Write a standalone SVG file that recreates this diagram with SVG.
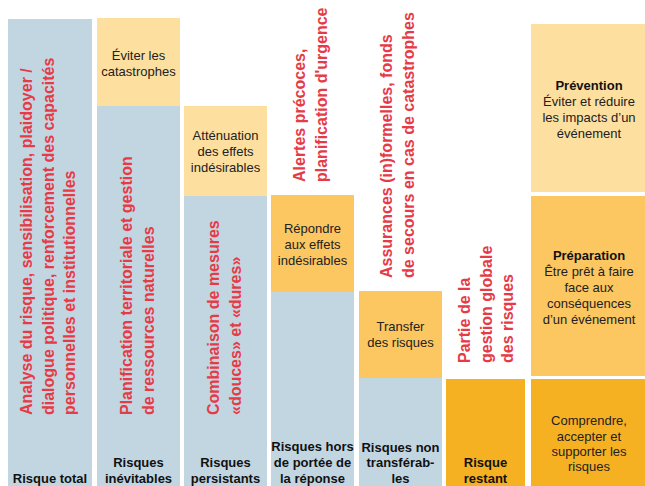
<svg xmlns="http://www.w3.org/2000/svg" width="645" height="486" viewBox="0 0 645 486">
<style>
.blue{fill:#C2D6E2}
.lo{fill:#FDDFA0}
.mo{fill:#FCC660}
.do{fill:#F5B122}
.red{font-family:"Liberation Sans",Arial,sans-serif;font-size:16px;font-weight:bold;fill:#E63B47}
.t{font-family:"Liberation Sans",Arial,sans-serif;font-size:13px;fill:#222;text-anchor:middle}
.b{font-family:"Liberation Sans",Arial,sans-serif;font-size:13px;font-weight:bold;fill:#111;text-anchor:middle}
</style>
<rect width="645" height="486" fill="#fff"/>
<g id="col-total">
<rect class="blue" x="8" y="19" width="84" height="467"/>
<text class="red" transform="translate(32,415) rotate(-90)">Analyse du risque, sensibilisation, plaidoyer /</text>
<text class="red" transform="translate(53.5,415) rotate(-90)">dialogue politique, renforcement des capacités</text>
<text class="red" transform="translate(75,415) rotate(-90)">personnelles et institutionnelles</text>
<text class="b" x="50" y="483">Risque total</text>
</g>
<g id="col-inevitables">
<rect class="lo" x="97" y="18" width="83" height="88"/>
<rect class="blue" x="97" y="106" width="83" height="380"/>
<text class="t" x="138.5" y="60">Éviter les</text>
<text class="t" x="138.5" y="76">catastrophes</text>
<text class="red" transform="translate(132,415) rotate(-90)">Planification territoriale et gestion</text>
<text class="red" transform="translate(153.5,415) rotate(-90)">de ressources naturelles</text>
<text class="b" x="138.5" y="467">Risques</text>
<text class="b" x="138.5" y="483">inévitables</text>
</g>
<g id="col-persistants">
<rect class="lo" x="184" y="106" width="83" height="90"/>
<rect class="blue" x="184" y="196" width="83" height="290"/>
<text class="t" x="225.5" y="140">Atténuation</text>
<text class="t" x="225.5" y="156">des effets</text>
<text class="t" x="225.5" y="172">indésirables</text>
<text class="red" transform="translate(218.5,415) rotate(-90)">Combinaison de mesures</text>
<text class="red" transform="translate(240.5,415) rotate(-90)">«douces» et «dures»</text>
<text class="b" x="225.5" y="467">Risques</text>
<text class="b" x="225.5" y="483">persistants</text>
</g>
<g id="col-hors-portee">
<rect class="mo" x="271" y="195" width="83" height="97"/>
<rect class="blue" x="271" y="292" width="83" height="194"/>
<text class="t" x="312.5" y="233">Répondre</text>
<text class="t" x="312.5" y="249">aux effets</text>
<text class="t" x="312.5" y="265">indésirables</text>
<text class="red" transform="translate(305,182) rotate(-90)">Alertes précoces,</text>
<text class="red" transform="translate(326.5,182) rotate(-90)">planification d'urgence</text>
<text class="b" x="312.5" y="451">Risques hors</text>
<text class="b" x="312.5" y="467">de portée de</text>
<text class="b" x="312.5" y="483">la réponse</text>
</g>
<g id="col-non-transferables">
<rect class="mo" x="359" y="291" width="83" height="87"/>
<rect class="blue" x="359" y="378" width="83" height="108"/>
<text class="t" x="400.5" y="331">Transfer</text>
<text class="t" x="400.5" y="347">des risques</text>
<text class="red" transform="translate(392,278) rotate(-90)">Assurances (in)formelles, fonds</text>
<text class="red" transform="translate(413.5,278) rotate(-90)">de secours en cas de catastrophes</text>
<text class="b" x="400.5" y="452">Risques non</text>
<text class="b" x="400.5" y="467">transférab-</text>
<text class="b" x="400.5" y="483">les</text>
</g>
<g id="col-restant">
<rect class="do" x="446" y="379" width="79" height="107"/>
<text class="red" transform="translate(470,363) rotate(-90)">Partie de la</text>
<text class="red" transform="translate(491.5,363) rotate(-90)">gestion globale</text>
<text class="red" transform="translate(513,363) rotate(-90)">des risques</text>
<text class="b" x="485.5" y="467">Risque</text>
<text class="b" x="485.5" y="483">restant</text>
</g>
<g id="legend-prevention">
<rect class="lo" x="531" y="24" width="114" height="168"/>
<text class="b" x="589" y="90">Prévention</text>
<text class="t" x="589" y="106">Éviter et réduire</text>
<text class="t" x="589" y="122">les impacts d’un</text>
<text class="t" x="589" y="138">événement</text>
</g>
<g id="legend-preparation">
<rect class="mo" x="531" y="196" width="114" height="180"/>
<text class="b" x="589" y="260">Préparation</text>
<text class="t" x="589" y="276">Être prêt à faire</text>
<text class="t" x="589" y="292">face aux</text>
<text class="t" x="589" y="308">conséquences</text>
<text class="t" x="589" y="324">d’un événement</text>
</g>
<g id="legend-comprendre">
<rect class="do" x="531" y="379" width="114" height="107"/>
<text class="t" x="589" y="425">Comprendre,</text>
<text class="t" x="589" y="441">accepter et</text>
<text class="t" x="589" y="456">supporter les</text>
<text class="t" x="589" y="471">risques</text>
</g>
<g id="connectors"/>
</svg>
